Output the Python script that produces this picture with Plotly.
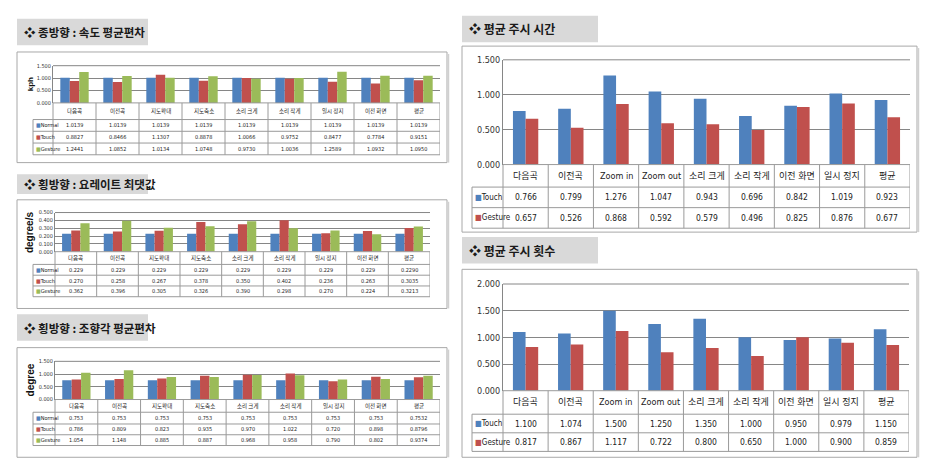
import plotly.graph_objects as go

W, H = 929, 475

# ---------------- data ----------------
left_categories = ["다음곡", "이전곡", "지도확대", "지도축소", "소리 크게", "소리 작게", "일시 정지", "이전 화면", "평균"]
right_categories = ["다음곡", "이전곡", "Zoom in", "Zoom out", "소리 크게", "소리 작게", "이전 화면", "일시 정지", "평균"]

speed_normal = [1.0139, 1.0139, 1.0139, 1.0139, 1.0139, 1.0139, 1.0139, 1.0139, 1.0139]
speed_touch = [0.8827, 0.8466, 1.1307, 0.8878, 1.0066, 0.9752, 0.8477, 0.7784, 0.9151]
speed_gesture = [1.2441, 1.0852, 1.0134, 1.0748, 0.9730, 1.0036, 1.2589, 1.0932, 1.0950]

yaw_normal = [0.229, 0.229, 0.229, 0.229, 0.229, 0.229, 0.229, 0.229, 0.2290]
yaw_touch = [0.270, 0.258, 0.267, 0.378, 0.350, 0.402, 0.236, 0.263, 0.3035]
yaw_gesture = [0.362, 0.396, 0.305, 0.326, 0.390, 0.298, 0.270, 0.224, 0.3213]

steer_normal = [0.753, 0.753, 0.753, 0.753, 0.753, 0.753, 0.753, 0.753, 0.7532]
steer_touch = [0.786, 0.809, 0.823, 0.935, 0.970, 1.022, 0.720, 0.898, 0.8796]
steer_gesture = [1.054, 1.148, 0.885, 0.887, 0.968, 0.958, 0.790, 0.802, 0.9374]

time_touch = [0.766, 0.799, 1.276, 1.047, 0.943, 0.696, 0.842, 1.019, 0.923]
time_gesture = [0.657, 0.526, 0.868, 0.592, 0.579, 0.496, 0.825, 0.876, 0.677]

count_touch = [1.100, 1.074, 1.500, 1.250, 1.350, 1.000, 0.950, 0.979, 1.150]
count_gesture = [0.817, 0.867, 1.117, 0.722, 0.800, 0.650, 1.000, 0.900, 0.859]

speed_ticks = [0.0, 0.5, 1.0, 1.5]
yaw_ticks = [0.0, 0.1, 0.2, 0.3, 0.4, 0.5]
steer_ticks = [0.0, 0.5, 1.0, 1.5]
time_ticks = [0.0, 0.5, 1.0, 1.5]
count_ticks = [0.0, 0.5, 1.0, 1.5, 2.0]

# ---------------- styles ----------------
BLUE, RED, GREEN = "#4F81BD", "#C0504D", "#9BBB59"
GRID = "#868686"
TLINE = "#9A9A9A"
FRAME = "#A8A8A8"
TITLEBG = "#D9D9D9"
KFONT = "Noto Sans CJK KR"
NFONT = "DejaVu Sans Condensed, Liberation Sans Narrow, Liberation Sans, Arial, sans-serif"
NKFONT = "DejaVu Sans Condensed, Liberation Sans Narrow, Noto Sans CJK KR, sans-serif"


def fx(x):
    return x / W


def fy(y):
    return 1 - y / H


def f4(v):
    return f"{v:.4f}"


def f3(v):
    return f"{v:.3f}"


def f3avg4(vals):
    return [f"{v:.3f}" for v in vals[:-1]] + [f"{vals[-1]:.4f}"]


panels = [
    dict(title="❖ 종방향 : 속도 평균편차", cats=left_categories,
         series=[("Normal", speed_normal, BLUE), ("Touch", speed_touch, RED), ("Gesture", speed_gesture, GREEN)],
         labels=[[f4(v) for v in speed_normal], [f4(v) for v in speed_touch], [f4(v) for v in speed_gesture]],
         ticks=speed_ticks, ytitle="kph", ytitle_x=30, ytitle_size=8,
         frame=(17, 48, 447, 161), tbox=(17, 14, 148, 41), plot=(53, 62, 440, 100),
         rows=[100, 117, 129, 141, 153], leg0=33, small=True, tsize=11.5),
    dict(title="❖ 횡방향 : 요레이트 최댓값", cats=left_categories,
         series=[("Normal", yaw_normal, BLUE), ("Touch", yaw_touch, RED), ("Gesture", yaw_gesture, GREEN)],
         labels=[f3avg4(yaw_normal), f3avg4(yaw_touch), f3avg4(yaw_gesture)],
         ticks=yaw_ticks, ytitle="degree/s", ytitle_x=29, ytitle_size=10,
         frame=(17, 199, 447, 310), tbox=(17, 173, 148, 193), plot=(55, 212, 430, 252),
         rows=[252, 265, 276, 287, 298], leg0=33, small=True, tsize=11.5),
    dict(title="❖ 횡방향 : 조향각 평균편차", cats=left_categories,
         series=[("Normal", steer_normal, BLUE), ("Touch", steer_touch, RED), ("Gesture", steer_gesture, GREEN)],
         labels=[f3avg4(steer_normal), f3avg4(steer_touch), f3avg4(steer_gesture)],
         ticks=steer_ticks, ytitle="degree", ytitle_x=30, ytitle_size=10,
         frame=(17, 350, 447, 462), tbox=(17, 316, 148, 343), plot=(55, 364, 440, 403),
         rows=[403, 416, 428, 439, 450], leg0=33, small=True, tsize=11.5),
    dict(title="❖ 평균 주시 시간", cats=right_categories,
         series=[("Touch", time_touch, BLUE), ("Gesture", time_gesture, RED)],
         labels=[[f3(v) for v in time_touch], [f3(v) for v in time_gesture]],
         ticks=time_ticks, ytitle=None,
         frame=(462, 42, 917, 232), tbox=(462, 11, 598, 38), plot=(503, 56, 910, 163),
         rows=[163, 186, 207, 228], leg0=472, small=False, tsize=12),
    dict(title="❖ 평균 주시 횟수", cats=right_categories,
         series=[("Touch", count_touch, BLUE), ("Gesture", count_gesture, RED)],
         labels=[[f3(v) for v in count_touch], [f3(v) for v in count_gesture]],
         ticks=count_ticks, ytitle=None,
         frame=(462, 270, 917, 462), tbox=(462, 237, 598, 264), plot=(503, 285, 909, 394),
         rows=[394, 418, 437, 456], leg0=472, small=False, tsize=12),
]

fig = go.Figure()
shapes = []
annotations = []
layout_axes = {}

for i, p in enumerate(panels, start=1):
    xname = "x" if i == 1 else f"x{i}"
    yname = "y" if i == 1 else f"y{i}"
    xkey = "xaxis" if i == 1 else f"xaxis{i}"
    ykey = "yaxis" if i == 1 else f"yaxis{i}"
    x0, y0, x1, y1 = p["plot"]
    n = len(p["series"])
    small = p["small"]
    bw = 0.22 if n == 3 else 0.28
    offs = [-0.33, -0.11, 0.11] if n == 3 else [-0.28, 0.0]

    # frame and title box
    fx0, fy0, fx1, fy1 = p["frame"]
    shapes.append(dict(type="rect", xref="paper", yref="paper", x0=fx(fx0), x1=fx(fx1), y0=fy(fy1), y1=fy(fy0),
                       line=dict(color=FRAME, width=1), fillcolor="rgba(0,0,0,0)", layer="below"))
    shapes.append(dict(type="line", xref="paper", yref="paper", x0=fx(fx1 + 1.5), x1=fx(fx1 + 1.5), y0=fy(fy1), y1=fy(fy0 + 2),
                       line=dict(color="#D0D0D0", width=1.5)))
    tx0, ty0, tx1, ty1 = p["tbox"]
    shapes.append(dict(type="rect", xref="paper", yref="paper", x0=fx(tx0), x1=fx(tx1), y0=fy(ty1), y1=fy(ty0),
                       line=dict(width=0), fillcolor=TITLEBG, layer="below"))
    annotations.append(dict(text=f"<b>{p['title']}</b>", xref="paper", yref="paper", x=fx(tx0 + 5), y=fy((ty0 + ty1) / 2),
                            xanchor="left", yanchor="middle", showarrow=False,
                            font=dict(family=KFONT, size=p["tsize"], color="#1a1a1a")))

    # bars
    for k, (name, vals, col) in enumerate(p["series"]):
        fig.add_trace(go.Bar(x=p["cats"], y=vals, name=name, marker=dict(color=col, line=dict(width=0)),
                             width=bw, offset=offs[k], xaxis=xname, yaxis=yname, showlegend=False))

    ymax = p["ticks"][-1]
    tickfs = 5.5 if small else 9
    layout_axes[xkey] = dict(domain=[fx(x0), fx(x1)], anchor=yname, type="category", range=[-0.5, 8.5],
                             showticklabels=False, showgrid=False, zeroline=False, showline=False,
                             categoryorder="array", categoryarray=p["cats"])
    layout_axes[ykey] = dict(domain=[fy(y1), fy(y0)], anchor=xname, range=[0, ymax],
                             tickvals=p["ticks"], ticktext=[f"{t:.3f}" for t in p["ticks"]],
                             showgrid=True, gridcolor=GRID, gridwidth=1, zeroline=False,
                             showline=True, linecolor=GRID, linewidth=1, ticks="",
                             tickfont=dict(family=NFONT, size=tickfs, color="#333"))
    # top gridline
    shapes.append(dict(type="line", xref="paper", yref="paper", x0=fx(x0), x1=fx(x1), y0=fy(y0), y1=fy(y0),
                       line=dict(color=GRID, width=1)))

    if p["ytitle"]:
        annotations.append(dict(text=f"<b>{p['ytitle']}</b>", xref="paper", yref="paper", x=fx(p["ytitle_x"]),
                                y=fy((y0 + y1) / 2), textangle=-90, showarrow=False, xanchor="center", yanchor="middle",
                                font=dict(family="Liberation Sans, Arial, sans-serif", size=p["ytitle_size"], color="#111")))

    # data table
    rows = p["rows"]
    leg0 = p["leg0"]
    shapes.append(dict(type="line", xref="paper", yref="paper", x0=fx(x0), x1=fx(x1), y0=fy(rows[0]), y1=fy(rows[0]),
                       line=dict(color=TLINE, width=1)))
    for r in rows[1:]:
        shapes.append(dict(type="line", xref="paper", yref="paper", x0=fx(leg0), x1=fx(x1), y0=fy(r), y1=fy(r),
                           line=dict(color=TLINE, width=1)))
    shapes.append(dict(type="line", xref="paper", yref="paper", x0=fx(leg0), x1=fx(leg0), y0=fy(rows[-1]), y1=fy(rows[1]),
                       line=dict(color=TLINE, width=1)))
    shapes.append(dict(type="line", xref="paper", yref="paper", x0=fx(x0), x1=fx(x0), y0=fy(rows[-1]), y1=fy(rows[0]),
                       line=dict(color=TLINE, width=1)))
    for c in range(len(p["cats"])):
        xb = c + 0.5
        shapes.append(dict(type="line", xref=xname, yref="paper", x0=xb, x1=xb, y0=fy(rows[-1]), y1=fy(rows[0]),
                           line=dict(color=TLINE, width=1)))
    catfs = 5.5 if small else 9
    valfs = 5.5 if small else 8.5
    legfs = 5.5 if small else 8
    for c, cat in enumerate(p["cats"]):
        annotations.append(dict(text=cat, xref=xname, yref="paper", x=cat, y=fy((rows[0] + rows[1]) / 2),
                                showarrow=False, xanchor="center", yanchor="middle",
                                font=dict(family=KFONT if small else NKFONT, size=catfs, color="#222")))
    for k, (name, vals, col) in enumerate(p["series"]):
        rc = (rows[k + 1] + rows[k + 2]) / 2
        annotations.append(dict(text=f"<span style='color:{col}'>■</span>{name}", xref="paper", yref="paper",
                                x=fx(leg0 + 1), y=fy(rc), showarrow=False, xanchor="left", yanchor="middle",
                                font=dict(family=NFONT, size=legfs, color="#222")))
        for c, cat in enumerate(p["cats"]):
            annotations.append(dict(text=p["labels"][k][c], xref=xname, yref="paper", x=cat, y=fy(rc),
                                    showarrow=False, xanchor="center", yanchor="middle",
                                    font=dict(family=NFONT, size=valfs, color="#222")))

fig.update_layout(
    width=W, height=H, margin=dict(l=0, r=0, t=0, b=0), autosize=False,
    paper_bgcolor="white", plot_bgcolor="white",
    barmode="group", showlegend=False,
    shapes=shapes, annotations=annotations,
    **layout_axes,
)

fig.write_html("out.html", config={"displayModeBar": False})
